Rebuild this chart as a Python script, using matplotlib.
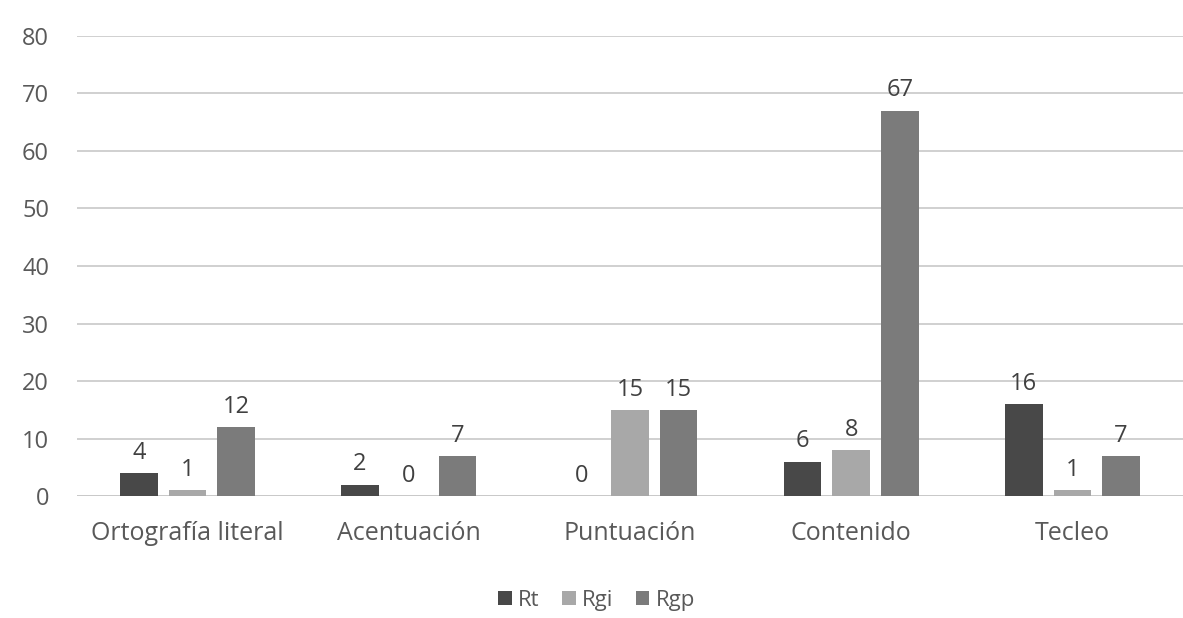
import matplotlib.pyplot as plt
import numpy as np

categories = ['Ortografía literal', 'Acentuación', 'Puntuación', 'Contenido', 'Tecleo']
series = ['Rt', 'Rgi', 'Rgp']
rt = [4, 2, 0, 6, 16]
rgi = [1, 0, 15, 8, 1]
rgp = [12, 7, 15, 67, 7]
colors = ['#484848', '#a8a8a8', '#7b7b7b']

plt.rcParams['font.family'] = ['Open Sans', 'DejaVu Sans']

fig = plt.figure(figsize=(11.83, 6.18), dpi=100)
ax = fig.add_axes([0.065, 0.197, 0.935, 0.745])

x = np.arange(len(categories))
step = 0.22
width = 0.17
text_col = '#595959'
for i, (name, vals) in enumerate(zip(series, [rt, rgi, rgp])):
    pos = x + (i - 1) * step
    bars = ax.bar(pos, vals, width, color=colors[i], label=name, zorder=3)
    for b, v in zip(bars, vals):
        ax.annotate(str(v), (b.get_x() + b.get_width() / 2, v),
                    xytext=(0, 6), textcoords='offset points',
                    ha='center', va='bottom', fontsize=17, color='#404040')

ax.set_xlim(-0.5, len(categories) - 0.5)
ax.set_ylim(0, 80)
ax.set_yticks(range(0, 81, 10))
ax.set_xticks(x)
ax.set_xticklabels(categories, fontsize=18, color=text_col)
ax.tick_params(axis='y', labelsize=17, labelcolor=text_col, length=0, pad=20)
ax.tick_params(axis='x', length=0, pad=18)
ax.grid(axis='y', color='#c8c8c8', linewidth=1.2, zorder=0)
for s in ax.spines.values():
    s.set_visible(False)
ax.axhline(0, color='#c8c8c8', linewidth=1.2, zorder=1)

ax.legend(loc='upper center', bbox_to_anchor=(0.47, -0.16), ncol=3, frameon=False,
          fontsize=16, handlelength=0.6, handleheight=0.6, handletextpad=0.3,
          columnspacing=1.0, labelcolor=text_col)

fig.savefig('out.png', dpi=100)
